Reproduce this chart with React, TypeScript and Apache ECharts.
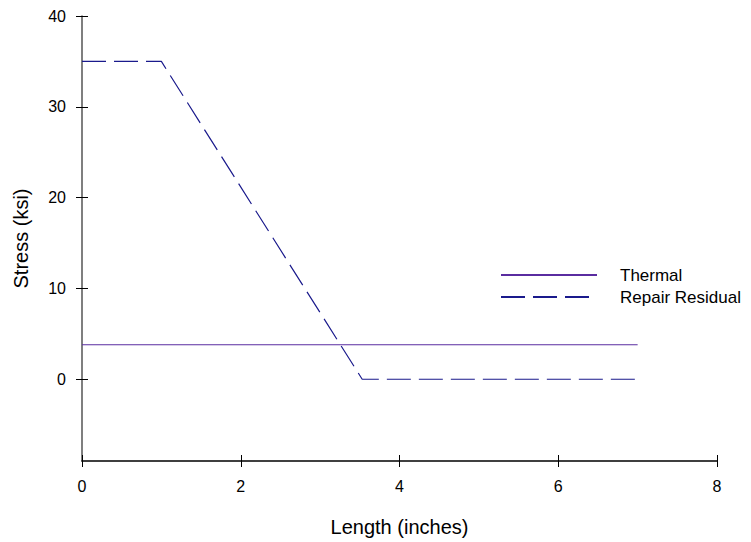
import React, { useEffect, useRef } from "react";
import * as echarts from "echarts";

const thermalX = [0, 7];
const thermalY = [3.8, 3.8];
const repairX = [0, 1, 3.53, 7];
const repairY = [35, 35, 0, 0];
const yTicks = [0, 10, 20, 30, 40];
const xTicks = [0, 2, 4, 6, 8];

export default function App() {
  const ref = useRef<HTMLDivElement>(null);
  useEffect(() => {
    const chart = echarts.init(ref.current!, null, { renderer: "svg" });
    const font = "Liberation Sans, Arial, sans-serif";
    const yBase = {
      type: "value" as const,
      min: -9,
      max: 40,
      splitLine: { show: false },
    };
    const xBase = {
      type: "value" as const,
      min: 0,
      max: 8,
      splitLine: { show: false },
    };
    chart.setOption({
      animation: false,
      grid: { left: 82, right: 34, top: 16, bottom: 81 },
      xAxis: [
        {
          ...xBase,
          position: "bottom",
          name: "Length (inches)",
          nameLocation: "middle",
          nameGap: 56,
          nameTextStyle: { color: "#000", fontSize: 20, fontFamily: font },
          axisLine: { show: true, onZero: false, lineStyle: { color: "#000", width: 1.5 } },
          axisTick: { show: true, inside: false, length: 6, customValues: xTicks, lineStyle: { color: "#000" } },
          axisLabel: { customValues: xTicks, color: "#000", fontSize: 16, fontFamily: font, margin: 17 },
        },
        {
          ...xBase,
          position: "bottom",
          axisLine: { show: false, onZero: false },
          axisTick: { show: true, inside: true, length: 6, customValues: xTicks, lineStyle: { color: "#000" } },
          axisLabel: { show: false },
        },
      ],
      yAxis: [
        {
          ...yBase,
          position: "left",
          name: "Stress (ksi)",
          nameLocation: "middle",
          nameGap: 51,
          nameRotate: 90,
          nameTextStyle: { color: "#000", fontSize: 20, fontFamily: font },
          axisLine: { show: true, onZero: false, lineStyle: { color: "#555", width: 1.5 } },
          axisTick: { show: true, inside: false, length: 6, customValues: yTicks, lineStyle: { color: "#000" } },
          axisLabel: { customValues: yTicks, color: "#000", fontSize: 16, fontFamily: font, margin: 16 },
        },
        {
          ...yBase,
          position: "left",
          axisLine: { show: false, onZero: false },
          axisTick: { show: true, inside: true, length: 6, customValues: yTicks, lineStyle: { color: "#000" } },
          axisLabel: { show: false },
        },
      ],
      legend: {
        orient: "vertical",
        left: 500,
        top: 265,
        padding: 0,
        itemWidth: 96,
        itemHeight: 14,
        itemGap: 2,
        itemStyle: { opacity: 0 },
        textStyle: {
          color: "#000",
          fontSize: 17,
          lineHeight: 20,
          fontFamily: font,
          padding: [0, 0, 0, 18],
          overflow: "none",
        },
        data: ["Thermal", "Repair Residual"],
      },
      series: [
        {
          name: "Thermal",
          type: "line",
          symbol: "none",
          data: thermalX.map((x, i) => [x, thermalY[i]]),
          lineStyle: { color: "#5a2ca0", width: 1.2 },
          itemStyle: { color: "#5a2ca0" },
        },
        {
          name: "Repair Residual",
          type: "line",
          symbol: "none",
          data: repairX.map((x, i) => [x, repairY[i]]),
          lineStyle: { color: "#1a1a8c", width: 1.2, type: [24, 8] },
          itemStyle: { color: "#1a1a8c" },
        },
      ],
    });
    return () => chart.dispose();
  }, []);
  return (
    <div
      ref={ref}
      style={{ position: "absolute", left: 0, top: 0, width: 751, height: 542 }}
    />
  );
}
